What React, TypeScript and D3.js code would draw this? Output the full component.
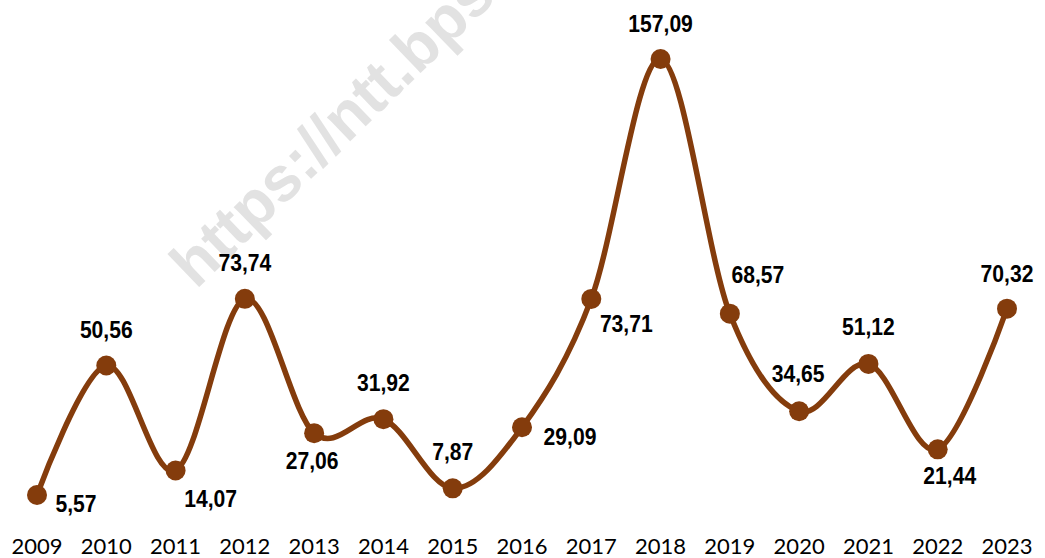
import React from "react";
import * as d3 from "d3";

const years = ["2009","2010","2011","2012","2013","2014","2015","2016","2017","2018","2019","2020","2021","2022","2023"];
const values = [5.57,50.56,14.07,73.74,27.06,31.92,7.87,29.09,73.71,157.09,68.57,34.65,51.12,21.44,70.32];
// label placement offsets (dx to label centre, dy to baseline) relative to point
const labelDx = [39,0,35,0,-2,0,0,48,35,0,28,-1,0,12,0];
const labelDy = [17,-28,36,-28,36,-28,-28,18,33,-27,-31,-29,-29,35,-27];

const W = 1045, H = 558;
const COLOR = "#843C0C";

export default function App() {
  const x = d3.scalePoint<string>().domain(years).range([37, 1007]);
  const y = d3.scaleLinear().domain([0, 160]).range([511, 50.6]);
  const line = d3.line<number>()
    .x((_, i) => x(years[i])!)
    .y((d) => y(d))
    .curve(d3.curveCardinal.tension(0));
  const fmt = (v: number) => v.toFixed(2).replace(".", ",");
  return (
    <svg width={W} height={H} style={{ position: "absolute", left: 0, top: 0, background: "#fff" }}>
      <text
        transform="translate(196,290) rotate(-44)"
        fontFamily="'Liberation Sans', Arial, sans-serif"
        fontWeight="bold"
        fontSize={63}
        fill="#e2e2e2"
      >https://ntt.bps.go.id</text>
      <path d={line(values) || ""} fill="none" stroke={COLOR} strokeWidth={5.5} />
      {values.map((v, i) => (
        <circle key={i} cx={x(years[i])} cy={y(v)} r={10} fill={COLOR} />
      ))}
      {values.map((v, i) => (
        <text
          key={"l" + i}
          transform={`translate(${x(years[i])! + labelDx[i]},${y(v) + labelDy[i]}) scale(0.88,1)`}
          textAnchor="middle"
          fontFamily="'Liberation Sans', Arial, sans-serif"
          fontWeight="bold"
          fontSize={24}
          fill="#000"
        >{fmt(v)}</text>
      ))}
      {years.map((yr) => (
        <text
          key={yr}
          x={x(yr)}
          y={554}
          textAnchor="middle"
          fontFamily="Lato, Carlito, sans-serif"
          fontSize={22}
          fill="#000"
        >{yr}</text>
      ))}
    </svg>
  );
}
